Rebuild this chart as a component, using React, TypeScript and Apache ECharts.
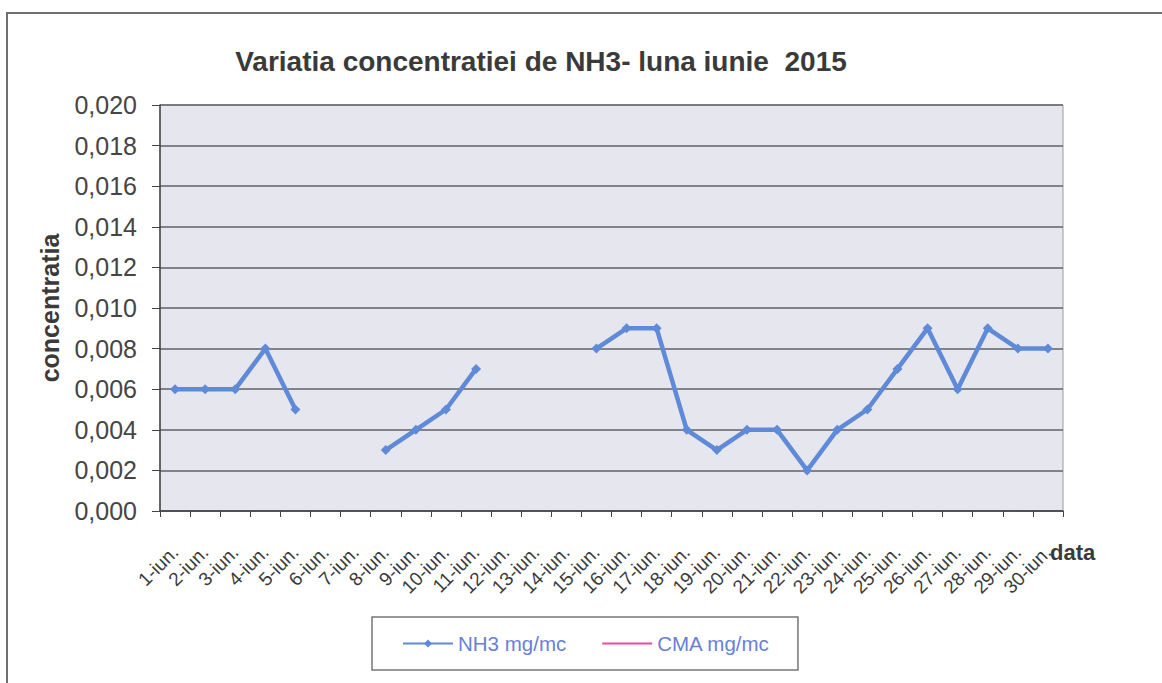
import React, { useEffect, useRef } from "react";
import * as echarts from "echarts";

const categories = [
  "1-iun.", "2-iun.", "3-iun.", "4-iun.", "5-iun.", "6-iun.", "7-iun.", "8-iun.", "9-iun.", "10-iun.",
  "11-iun.", "12-iun.", "13-iun.", "14-iun.", "15-iun.", "16-iun.", "17-iun.", "18-iun.", "19-iun.", "20-iun.",
  "21-iun.", "22-iun.", "23-iun.", "24-iun.", "25-iun.", "26-iun.", "27-iun.", "28-iun.", "29-iun.", "30-iun.",
];

const nh3Values: (number | null)[] = [
  0.006, 0.006, 0.006, 0.008, 0.005, null, null, 0.003, 0.004, 0.005,
  0.007, null, null, null, 0.008, 0.009, 0.009, 0.004, 0.003, 0.004,
  0.004, 0.002, 0.004, 0.005, 0.007, 0.009, 0.006, 0.009, 0.008, 0.008,
];

const cmaValues: (number | null)[] = [];

const titleText = "Variatia concentratiei de NH3- luna iunie  2015";
const yAxisName = "concentratia";
const xAxisName = "data";
const seriesNames = ["NH3 mg/mc", "CMA mg/mc"];

const FONT = "Liberation Sans, Arial, sans-serif";

export default function App() {
  const ref = useRef<HTMLDivElement>(null);
  useEffect(() => {
    if (!ref.current) return;
    const chart = echarts.init(ref.current, null, { renderer: "svg" });
    chart.setOption({
      animation: false,
      backgroundColor: "#ffffff",
      textStyle: { fontFamily: FONT },
      title: {
        text: titleText,
        left: 536,
        textAlign: "center",
        top: 42,
        textStyle: { fontSize: 28, fontWeight: "bold", color: "#3a3a3a", fontFamily: FONT },
      },
      graphic: [
        {
          type: "rect",
          shape: { x: 7, y: 13, width: 1200, height: 720 },
          style: { fill: "none", stroke: "#6f6f6f", lineWidth: 2 },
          silent: true,
        },
      ],
      grid: {
        left: 160,
        right: 99,
        top: 105,
        bottom: 172,
        show: true,
        backgroundColor: "#e6e6ef",
        borderColor: "#9a9aa8",
        borderWidth: 1,
      },
      legend: {
        left: 372,
        top: 617,
        itemWidth: 50,
        itemHeight: 10,
        itemGap: 35,
        padding: [16, 28, 16, 30],
        borderColor: "#777",
        borderWidth: 1.5,
        borderRadius: 0,
        textStyle: { fontSize: 20.5, color: "#6a7fd6", fontFamily: FONT },
        data: [
          { name: seriesNames[0] },
          { name: seriesNames[1], itemStyle: { opacity: 0 } },
        ],
      },
      xAxis: {
        type: "category",
        data: categories,
        boundaryGap: true,
        name: xAxisName,
        nameLocation: "end",
        nameGap: -13,
        nameMoveOverlap: false,
        nameTextStyle: {
          fontSize: 22,
          fontWeight: "bold",
          color: "#3a3a3a",
          verticalAlign: "top",
          padding: [30, 0, 0, 0],
        },
        axisLine: { show: true, lineStyle: { color: "#444", width: 1.5 } },
        axisTick: { show: true, alignWithLabel: false, length: 6, lineStyle: { color: "#444" } },
        axisLabel: {
          interval: 0,
          rotate: 45,
          margin: 38,
          fontSize: 19,
          color: "#3a3a3a",
        },
        splitLine: { show: false },
      },
      yAxis: {
        type: "value",
        min: 0,
        max: 0.02,
        interval: 0.002,
        name: yAxisName,
        nameLocation: "middle",
        nameGap: 98,
        nameTextStyle: { fontSize: 25, fontWeight: "bold", color: "#3a3a3a" },
        axisLine: { show: true, lineStyle: { color: "#444", width: 1.5 } },
        axisTick: { show: true, length: 8, lineStyle: { color: "#444" } },
        axisLabel: {
          margin: 23,
          fontSize: 25,
          color: "#454545",
          formatter: (v: number) => v.toFixed(3).replace(".", ","),
        },
        splitLine: { show: true, lineStyle: { color: "#606068", width: 1.5 } },
      },
      series: [
        {
          name: seriesNames[0],
          type: "line",
          data: nh3Values,
          connectNulls: false,
          symbol: "diamond",
          symbolSize: 10,
          itemStyle: { color: "#5f8ad8" },
          lineStyle: { color: "#5f8ad8", width: 4.5 },
        },
        {
          name: seriesNames[1],
          type: "line",
          data: cmaValues,
          symbol: "none",
          itemStyle: { color: "#ea4aa0" },
          lineStyle: { color: "#ea4aa0", width: 2 },
        },
      ],
    });
    return () => chart.dispose();
  }, []);
  return (
    <div
      ref={ref}
      style={{ position: "fixed", left: 0, top: 0, width: 1162, height: 683 }}
    />
  );
}
